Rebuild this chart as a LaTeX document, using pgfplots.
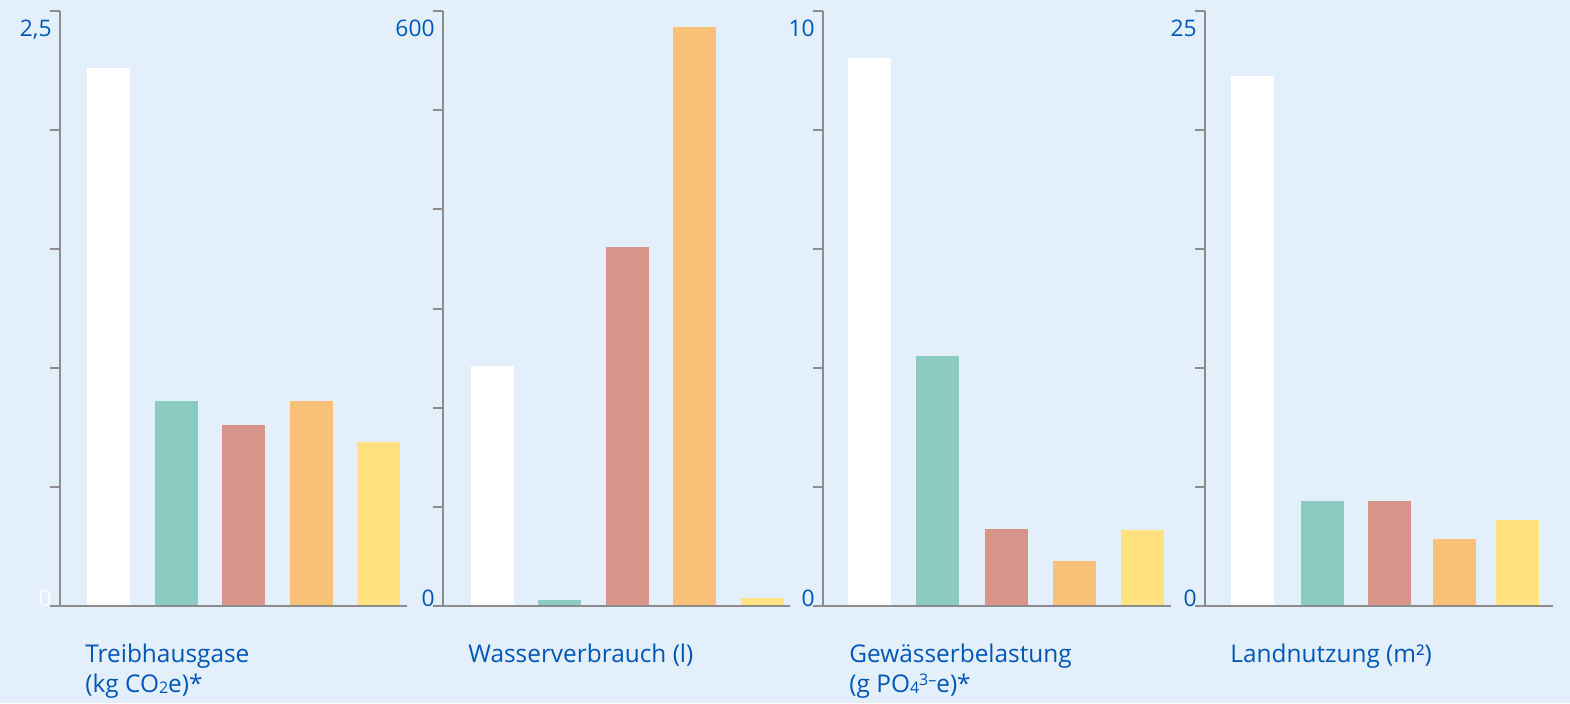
\documentclass[border=0pt]{standalone}
\usepackage{fontspec}
\setmainfont{Open Sans}
\usepackage{pgfplots}
\pgfplotsset{compat=1.18}

\definecolor{bg}{HTML}{E3EFFB}
\definecolor{axgray}{HTML}{8C8C8C}
\definecolor{tblue}{HTML}{0057B8}
\definecolor{cgreen}{HTML}{8CCBBF}
\definecolor{cred}{HTML}{D89489}
\definecolor{corange}{HTML}{F9C078}
\definecolor{cyellow}{HTML}{FFE180}

% 1 px of the reference = 0.5pt
\pgfplotsset{
  panel/.style={
    scale only axis, height=297.5pt, anchor=south west,
    xmin=0, ymin=0,
    axis lines=left, axis line style={-, draw=axgray, line width=1pt},
    tick style={draw=axgray, line width=1pt},
    major tick length=5pt, tick align=outside,
    xtick=\empty, yticklabels={}, clip=false, axis on top,
  },
  b/.style={ybar, bar width=21.5pt, bar shift=0pt, fill=#1, draw=none},
}
\tikzset{
  toplab/.style={anchor=north east, inner sep=0pt, xshift=-4pt, yshift=-4.5pt,
    text=tblue, font=\fontsize{11.4}{13}\selectfont},
  zerolab/.style={anchor=base east, inner sep=0pt, xshift=-4pt,
    text=tblue, font=\fontsize{11.4}{13}\selectfont},
  catlab/.style={anchor=base west, inner sep=0pt, text=tblue,
    font=\fontsize{12.2}{15}\selectfont},
}
\newcommand{\lowsub}[1]{\raisebox{-0.6pt}{\fontsize{8}{8}\selectfont #1}}
\newcommand{\highsup}[1]{\raisebox{3.2pt}{\fontsize{8}{8}\selectfont #1}}

\begin{document}
\begin{tikzpicture}
  \fill[bg] (0,0) rectangle (785pt,-351.5pt);
  \useasboundingbox (0,0) rectangle (785pt,-351.5pt);

  % Treibhausgase
  \begin{axis}[panel, at={(30pt,-303pt)}, width=173.5pt, xmax=347,
      ymax=2.5, ytick={0,0.5,...,2.5}]
    \addplot[b=white]   coordinates {(48.5,2.26)};
    \addplot[b=cgreen]  coordinates {(116.5,0.861)};
    \addplot[b=cred]    coordinates {(183.5,0.761)};
    \addplot[b=corange] coordinates {(251.5,0.861)};
    \addplot[b=cyellow] coordinates {(318.5,0.689)};
    \node[toplab] at (rel axis cs:0,1) {2,5};
    \node[zerolab, text=white] at (rel axis cs:0,0) {0};
  \end{axis}

  % Wasserverbrauch
  \begin{axis}[panel, at={(221.5pt,-303pt)}, width=173.5pt, xmax=347,
      ymax=600, ytick={0,100,...,600}]
    \addplot[b=white]   coordinates {(49.5,242)};
    \addplot[b=cgreen]  coordinates {(116.5,6)};
    \addplot[b=cred]    coordinates {(184.5,362)};
    \addplot[b=corange] coordinates {(251.5,584)};
    \addplot[b=cyellow] coordinates {(319.5,8)};
    \node[toplab] at (rel axis cs:0,1) {600};
    \node[zerolab] at (rel axis cs:0,0) {0};
  \end{axis}

  % Gewaesserbelastung
  \begin{axis}[panel, at={(411.5pt,-303pt)}, width=174pt, xmax=348,
      ymax=10, ytick={0,2,...,10}]
    \addplot[b=white]   coordinates {(46.5,9.21)};
    \addplot[b=cgreen]  coordinates {(114.5,4.20)};
    \addplot[b=cred]    coordinates {(183.5,1.29)};
    \addplot[b=corange] coordinates {(251.5,0.76)};
    \addplot[b=cyellow] coordinates {(319.5,1.28)};
    \node[toplab] at (rel axis cs:0,1) {10};
    \node[zerolab] at (rel axis cs:0,0) {0};
  \end{axis}

  % Landnutzung
  \begin{axis}[panel, at={(602.5pt,-303pt)}, width=174pt, xmax=348,
      ymax=25, ytick={0,5,...,25}]
    \addplot[b=white]   coordinates {(47.5,22.27)};
    \addplot[b=cgreen]  coordinates {(117.5,4.41)};
    \addplot[b=cred]    coordinates {(184.5,4.41)};
    \addplot[b=corange] coordinates {(249.5,2.82)};
    \addplot[b=cyellow] coordinates {(312.5,3.61)};
    \node[toplab] at (rel axis cs:0,1) {25};
    \node[zerolab] at (rel axis cs:0,0) {0};
  \end{axis}

  \node[catlab] at (42.5pt,-331pt) {Treibhausgase};
  \node[catlab] at (42.5pt,-346pt) {(kg CO\lowsub{2}e)*};
  \node[catlab] at (234pt,-331pt) {Wasserverbrauch (l)};
  \node[catlab] at (424.5pt,-331pt) {Gewässerbelastung};
  \node[catlab] at (424.5pt,-346pt) {(g PO\lowsub{4}\highsup{3–}e)*};
  \node[catlab] at (615pt,-331pt) {Landnutzung (m²)};
\end{tikzpicture}
\end{document}
